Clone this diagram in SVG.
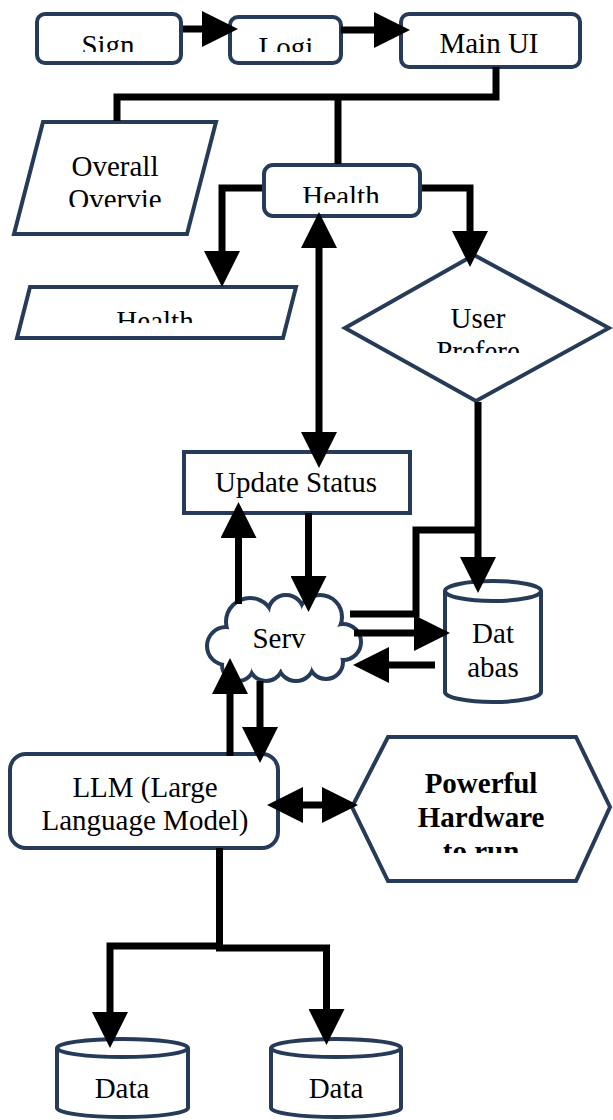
<svg xmlns="http://www.w3.org/2000/svg" width="613" height="1120" viewBox="0 0 613 1120">
<style>
.n{fill:#fff;stroke:#253b57;stroke-width:4;stroke-linejoin:miter}
.t{font-family:"Liberation Serif","Times New Roman",serif;font-size:29px;fill:#000;text-anchor:middle}
.b{font-weight:bold}
.c{fill:none;stroke:#000;stroke-width:7;stroke-linejoin:miter}
.co{fill:#fff;stroke:#253b57;stroke-width:8}
.cf{fill:#fff;stroke:none}
</style>
<defs>
<marker id="ah" markerUnits="userSpaceOnUse" markerWidth="36" markerHeight="36" viewBox="0 0 36 36" refX="10" refY="18" orient="auto-start-reverse"><path d="M0,0 L36,18 L0,36 z" fill="#000"/></marker>
<clipPath id="k1"><rect x="0" y="0" width="613" height="52"/></clipPath>
<clipPath id="k2"><rect x="0" y="0" width="613" height="52"/></clipPath>
<clipPath id="k3"><rect x="0" y="0" width="613" height="207"/></clipPath>
<clipPath id="k4"><rect x="0" y="0" width="613" height="203"/></clipPath>
<clipPath id="k5"><rect x="0" y="0" width="613" height="323"/></clipPath>
<clipPath id="k6"><rect x="0" y="0" width="613" height="353"/></clipPath>
<clipPath id="k7"><rect x="0" y="0" width="613" height="853"/></clipPath>
</defs>

<g id="sign"><rect class="n" x="37" y="14" width="144" height="49" rx="8"/><text class="t" x="108" y="55" clip-path="url(#k1)">Sign</text></g>
<g id="login"><rect class="n" x="230" y="17" width="111" height="46" rx="8"/><text class="t" x="286" y="57" clip-path="url(#k2)">Logi</text></g>
<g id="mainui"><rect class="n" x="401" y="14" width="179" height="53" rx="8"/><text class="t" x="489" y="53">Main UI</text></g>
<g id="overview"><polygon class="n" points="43,122 216,122 187,234 14,234"/><text class="t" x="115" y="176">Overall</text><text class="t" x="115" y="209" clip-path="url(#k3)">Overvie</text></g>
<g id="health"><rect class="n" x="264" y="165" width="156" height="51" rx="9"/><text class="t" x="341" y="206" clip-path="url(#k4)">Health</text></g>
<g id="health-io"><polygon class="n" points="30,287 296,287 283,338 17,338"/><text class="t" x="155" y="331" clip-path="url(#k5)">Health</text></g>
<g id="prefs"><polygon class="n" points="474,255 609,328 476,401 345,328"/><text class="t" x="478" y="328">User</text><text class="t" x="478" y="361" clip-path="url(#k6)">Prefere</text></g>
<g id="update"><rect class="n" x="184" y="452" width="226" height="61"/><text class="t" x="296" y="492">Update Status</text></g>
<g id="server">
<g class="co"><circle cx="226" cy="646" r="17"/><circle cx="250" cy="622" r="22"/><circle cx="286" cy="613" r="16"/><circle cx="320" cy="617" r="20"/><circle cx="343" cy="642" r="16"/><circle cx="326" cy="662" r="15"/><circle cx="296" cy="663" r="16"/><circle cx="266" cy="664" r="15"/><circle cx="238" cy="665" r="14"/></g>
<g class="cf"><circle cx="226" cy="646" r="17"/><circle cx="250" cy="622" r="22"/><circle cx="286" cy="613" r="16"/><circle cx="320" cy="617" r="20"/><circle cx="343" cy="642" r="16"/><circle cx="326" cy="662" r="15"/><circle cx="296" cy="663" r="16"/><circle cx="266" cy="664" r="15"/><circle cx="238" cy="665" r="14"/><ellipse cx="284" cy="643" rx="55" ry="26"/></g>
<text class="t" x="279" y="648">Serv</text></g>
<g id="database"><path class="n" d="M445,591 V692 A48,10 0 0 0 541,692 V591"/><ellipse class="n" cx="493" cy="591" rx="48" ry="10"/><text class="t" x="493" y="643">Dat</text><text class="t" x="493" y="677">abas</text></g>
<g id="llm"><rect class="n" x="10" y="754" width="268" height="94" rx="16"/><text class="t" x="145" y="797">LLM (Large</text><text class="t" x="145" y="830">Language Model)</text></g>
<g id="hardware"><polygon class="n" points="388,737 576,737 610,807 576,881 388,881 352,807"/><text class="t b" x="481" y="793">Powerful</text><text class="t b" x="481" y="827">Hardware</text><text class="t b" x="481" y="861" clip-path="url(#k7)">to run</text></g>
<g id="data1"><path class="n" d="M57,1048 V1108 A65.5,9 0 0 0 188,1108 V1048"/><ellipse class="n" cx="122.5" cy="1048" rx="65.5" ry="9"/><text class="t" x="122" y="1098">Data</text></g>
<g id="data2"><path class="n" d="M271,1048 V1108 A65,9 0 0 0 401,1108 V1048"/><ellipse class="n" cx="336" cy="1048" rx="65" ry="9"/><text class="t" x="336" y="1098">Data</text></g>

<g id="connectors">
<path class="c" d="M183,29 H212" marker-end="url(#ah)"/>
<path class="c" d="M341,30 H384" marker-end="url(#ah)"/>
<path class="c" d="M496,67 V97 H117 V121 M338,97 V164"/>
<path class="c" d="M262,188 H222 V261" marker-end="url(#ah)"/>
<path class="c" d="M422,188 H470 V241" marker-end="url(#ah)"/>
<path class="c" d="M319,238 V442" marker-start="url(#ah)" marker-end="url(#ah)"/>
<path class="c" d="M308.5,513 V586" marker-end="url(#ah)"/>
<path class="c" d="M238.5,604 V528" marker-end="url(#ah)"/>
<path class="c" d="M478,402 V567" marker-end="url(#ah)"/>
<path class="c" d="M478,530 H416 V614 H350"/>
<path class="c" d="M354,633 H424" marker-end="url(#ah)"/>
<path class="c" d="M435,665 H379" marker-end="url(#ah)"/>
<path class="c" d="M230,756 V684" marker-end="url(#ah)"/>
<path class="c" d="M260,681 V737" marker-end="url(#ah)"/>
<path class="c" d="M293,805 H332" marker-start="url(#ah)" marker-end="url(#ah)"/>
<path class="c" d="M219.5,848 V946 H110 V1022" marker-end="url(#ah)"/>
<path class="c" d="M216,948 H326.5 V1019" marker-end="url(#ah)"/>
</g>
</svg>
